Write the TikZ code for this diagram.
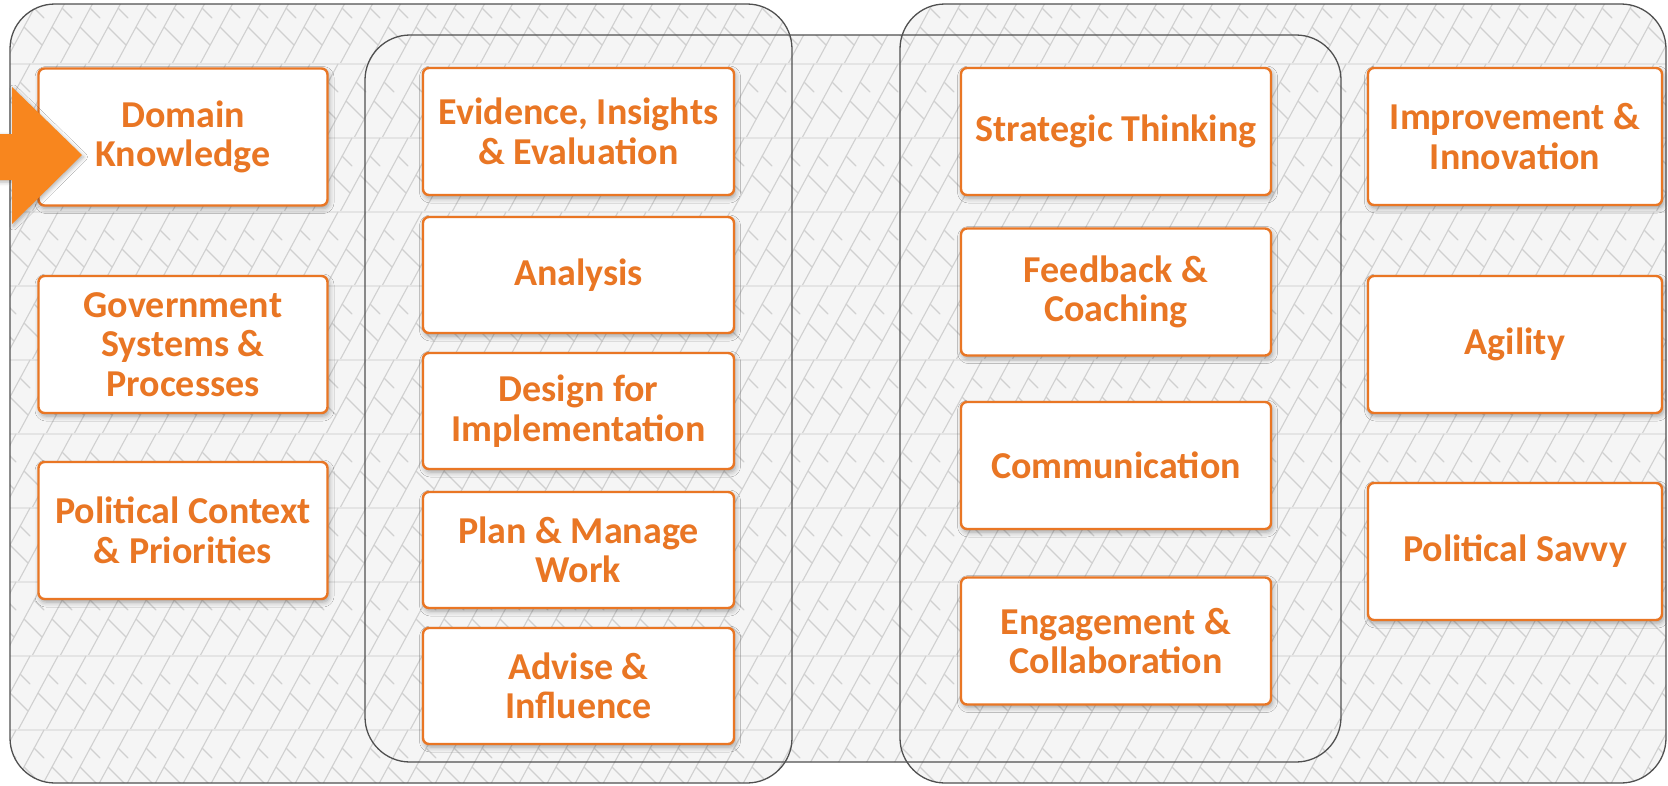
\documentclass[tikz,border=0pt]{standalone}
\usepackage{fontspec}
\setmainfont{Carlito}
\usetikzlibrary{shadows.blur}

\definecolor{boxorange}{RGB}{233,118,36}
\definecolor{arroworange}{RGB}{248,134,30}
\definecolor{panelline}{RGB}{80,80,80}
\definecolor{weavefill}{RGB}{245,245,245}
\definecolor{weaveline}{RGB}{208,208,208}
\definecolor{weaveseam}{RGB}{228,228,228}

\tikzset{
  skill/.style={draw=boxorange, line width=2.4pt, fill=white, rounded corners=6pt,
    text=boxorange, font=\fontsize{38}{39.5}\selectfont\bfseries, align=center,
    inner sep=0pt,
    blur shadow={shadow xshift=1.5pt, shadow yshift=-3pt, shadow blur radius=5pt, shadow opacity=35}},
  colA/.style={skill, minimum width=289pt, minimum height=137pt},
  colB/.style={skill, minimum width=311pt, minimum height=116pt},
  colC/.style={skill, minimum width=310pt, minimum height=127pt},
  colD/.style={skill, minimum width=294pt, minimum height=137pt},
  panel/.style={draw=panelline, line width=1.3pt, rounded corners=45pt},
  strand/.style={draw=weaveline, line width=1.1pt, line cap=round},
}

\begin{document}
\begin{tikzpicture}[x=1pt,y=-1pt]
\useasboundingbox (0,0) rectangle (1668,785);

% woven backdrop, filling the union of the three panels
\begin{scope}
  \clip[rounded corners=45pt] (10,4) rectangle (792,783)
        (365,35) rectangle (1341,762) (900,4) rectangle (1666,783);
  \fill[weavefill] (0,0) rectangle (1668,785);
  \foreach \r in {0,...,10} {
    \pgfmathsetmacro\yy{\r*74-10}
    \pgfmathsetmacro\sh{mod(\r,2)*14}
    \draw[weaveseam, line width=2pt] (0,\yy) -- (1668,\yy);
    \foreach \x in {-80,-52,...,1700} {
      % long braid strands and the short cross seams between them
      \draw[strand] (\x+\sh,\yy+74) -- ++(40,-74);
      \draw[strand] (\x+\sh+20,\yy+37) -- ++(18,18);
      \draw[strand] (\x+\sh+30,\yy+18) -- ++(10,10);
    }
  }
\end{scope}

% group outlines
\draw[panel] (10,4) rectangle (792,783);
\draw[panel] (365,35) rectangle (1341,762);
\draw[panel] (900,4) rectangle (1666,783);

% first column
\node[colA] (dk)  at (183,137)   {Domain\\Knowledge};
\node[colA] (gsp) at (183,344.5) {Government\\Systems \&\\Processes};
\node[colA] (pcp) at (183,530.5) {Political Context\\\& Priorities};

% second column
\node[colB, minimum height=127pt] (eie) at (578.5,131.5) {Evidence, Insights\\\& Evaluation};
\node[colB] (ana) at (578.5,275) {Analysis};
\node[colB] (dfi) at (578.5,411) {Design for\\Implementation};
\node[colB] (pmw) at (578.5,550) {Plan \& Manage\\Work};
\node[colB] (adv) at (578.5,686) {Advise \&\\Influence};

% third column
\node[colC] (stt) at (1116,131.5) {Strategic Thinking};
\node[colC] (fbc) at (1116,292)   {Feedback \&\\Coaching};
\node[colC] (com) at (1116,465.5) {Communication};
\node[colC] (eac) at (1116,641)   {Engagement \&\\Collaboration};

% fourth column
\node[colD] (imp) at (1515,136.5) {Improvement \&\\Innovation};
\node[colD] (agi) at (1515,344.5) {Agility};
\node[colD] (pos) at (1515,551.5) {Political Savvy};

% entry arrow, lying over the first box
\fill[arroworange, blur shadow={shadow xshift=1.5pt, shadow yshift=-2pt, shadow blur radius=4pt, shadow opacity=30}]
  (-5,134) -- (12,134) -- (12,87) -- (82,155) -- (12,224) -- (12,180) -- (-5,180) -- cycle;
\end{tikzpicture}
\end{document}
